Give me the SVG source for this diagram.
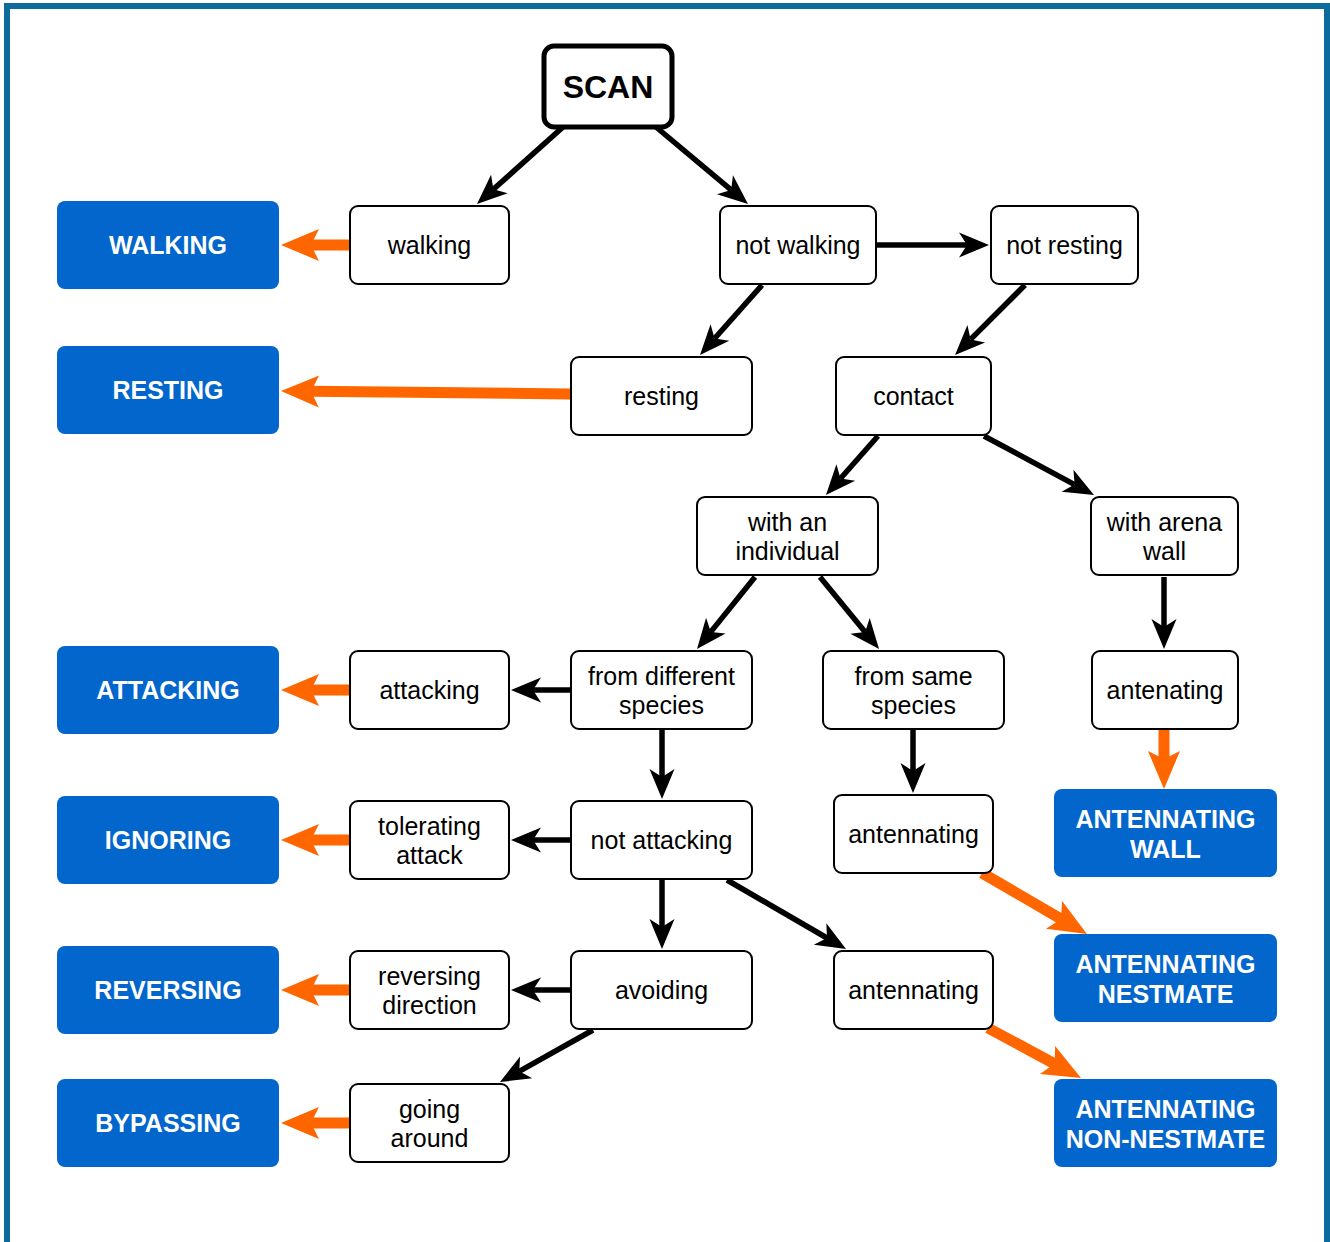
<svg xmlns="http://www.w3.org/2000/svg" width="1330" height="1242" viewBox="0 0 1330 1242">
<style>
.n rect{fill:#fff;stroke:#000;stroke-width:2}
.n text{font-family:"Liberation Sans",Arial,sans-serif;font-size:25px;fill:#000;text-anchor:middle}
.b rect{fill:#0366cc}
.b text{font-family:"Liberation Sans",Arial,sans-serif;font-size:25px;font-weight:bold;fill:#fff;text-anchor:middle}
.k{stroke:#000;stroke-width:5.5;fill:none;marker-end:url(#ak)}
.o{stroke:#ff6600;stroke-width:11;fill:none;marker-end:url(#ao)}
</style>
<defs>
<marker id="ak" markerUnits="userSpaceOnUse" orient="auto" refX="0" refY="0" markerWidth="40" markerHeight="30" overflow="visible"><path d="M22,0 L-8,-12.5 L0,0 L-8,12.5 Z" fill="#000"/></marker>
<marker id="ao" markerUnits="userSpaceOnUse" orient="auto" refX="0" refY="0" markerWidth="50" markerHeight="40" overflow="visible"><path d="M30,0 L-8,-16 L0,0 L-8,16 Z" fill="#ff6600"/></marker>
</defs>
<rect x="0" y="0" width="1330" height="1242" fill="#fff"/>
<rect x="7" y="6" width="1320" height="1260" fill="none" stroke="#0b6b9c" stroke-width="6"/>

<g id="connectors">
<path class="k" d="M563,127 L493.4,189.3"/>
<path class="k" d="M656,127 L731.1,189.9"/>
<path class="k" d="M876,245 L967,245"/>
<path class="k" d="M762,285 L714.6,338.5"/>
<path class="k" d="M1025,285 L970.6,339.4"/>
<path class="k" d="M878,436 L840.5,478.5"/>
<path class="k" d="M984,436 L1074.6,484.6"/>
<path class="k" d="M755,577 L710.8,631.9"/>
<path class="k" d="M820,577 L865.1,632"/>
<path class="k" d="M1164,577 L1164,627"/>
<path class="k" d="M571,690 L533,690"/>
<path class="k" d="M662,730 L662,777"/>
<path class="k" d="M913,730 L913,771"/>
<path class="k" d="M571,840 L533,840"/>
<path class="k" d="M662,880 L662,927"/>
<path class="k" d="M727,880 L827,938"/>
<path class="k" d="M571,990 L533,990"/>
<path class="k" d="M593,1030 L519.2,1071.3"/>
<path class="o" d="M350,245 L311,245"/>
<path class="o" d="M571,394 L311,391.3"/>
<path class="o" d="M350,690 L311,690"/>
<path class="o" d="M350,840 L311,840"/>
<path class="o" d="M350,990 L311,990"/>
<path class="o" d="M350,1123 L311,1123"/>
<path class="o" d="M1164,729 L1164,759"/>
<path class="o" d="M982,873 L1061,918.9"/>
<path class="o" d="M988,1028 L1054.6,1063.8"/>
</g>

<g id="scan" class="n"><rect x="544" y="46" width="128" height="81" rx="10" style="stroke-width:5"/><text x="608" y="98" style="font-size:32px;font-weight:bold">SCAN</text></g>
<g id="walking" class="n"><rect x="350" y="206" width="159" height="78" rx="8"/><text x="429.5" y="253.5">walking</text></g>
<g id="not-walking" class="n"><rect x="720" y="206" width="156" height="78" rx="8"/><text x="798" y="253.5">not walking</text></g>
<g id="not-resting" class="n"><rect x="991" y="206" width="147" height="78" rx="8"/><text x="1064.5" y="253.5">not resting</text></g>
<g id="resting" class="n"><rect x="571" y="357" width="181" height="78" rx="8"/><text x="661.5" y="404.5">resting</text></g>
<g id="contact" class="n"><rect x="836" y="357" width="155" height="78" rx="8"/><text x="913.5" y="404.5">contact</text></g>
<g id="with-individual" class="n"><rect x="697" y="497" width="181" height="78" rx="8"/><text x="787.5" y="530.5">with an</text><text x="787.5" y="559.5">individual</text></g>
<g id="with-wall" class="n"><rect x="1091" y="497" width="147" height="78" rx="8"/><text x="1164.5" y="530.5">with arena</text><text x="1164.5" y="559.5">wall</text></g>
<g id="attacking" class="n"><rect x="350" y="651" width="159" height="78" rx="8"/><text x="429.5" y="698.5">attacking</text></g>
<g id="from-different" class="n"><rect x="571" y="651" width="181" height="78" rx="8"/><text x="661.5" y="684.5">from different</text><text x="661.5" y="713.5">species</text></g>
<g id="from-same" class="n"><rect x="823" y="651" width="181" height="78" rx="8"/><text x="913.5" y="684.5">from same</text><text x="913.5" y="713.5">species</text></g>
<g id="antenating" class="n"><rect x="1092" y="651" width="146" height="78" rx="8"/><text x="1165" y="698.5">antenating</text></g>
<g id="tolerating" class="n"><rect x="350" y="801" width="159" height="78" rx="8"/><text x="429.5" y="834.5">tolerating</text><text x="429.5" y="863.5">attack</text></g>
<g id="not-attacking" class="n"><rect x="571" y="801" width="181" height="78" rx="8"/><text x="661.5" y="848.5">not attacking</text></g>
<g id="antennating-1" class="n"><rect x="834" y="795" width="159" height="78" rx="8"/><text x="913.5" y="842.5">antennating</text></g>
<g id="reversing" class="n"><rect x="350" y="951" width="159" height="78" rx="8"/><text x="429.5" y="984.5">reversing</text><text x="429.5" y="1013.5">direction</text></g>
<g id="avoiding" class="n"><rect x="571" y="951" width="181" height="78" rx="8"/><text x="661.5" y="998.5">avoiding</text></g>
<g id="antennating-2" class="n"><rect x="834" y="951" width="159" height="78" rx="8"/><text x="913.5" y="998.5">antennating</text></g>
<g id="going-around" class="n"><rect x="350" y="1084" width="159" height="78" rx="8"/><text x="429.5" y="1117.5">going</text><text x="429.5" y="1146.5">around</text></g>

<g id="WALKING" class="b"><rect x="57" y="201" width="222" height="88" rx="8"/><text x="168" y="253.5">WALKING</text></g>
<g id="RESTING" class="b"><rect x="57" y="346" width="222" height="88" rx="8"/><text x="168" y="398.5">RESTING</text></g>
<g id="ATTACKING" class="b"><rect x="57" y="646" width="222" height="88" rx="8"/><text x="168" y="698.5">ATTACKING</text></g>
<g id="IGNORING" class="b"><rect x="57" y="796" width="222" height="88" rx="8"/><text x="168" y="848.5">IGNORING</text></g>
<g id="REVERSING" class="b"><rect x="57" y="946" width="222" height="88" rx="8"/><text x="168" y="998.5">REVERSING</text></g>
<g id="BYPASSING" class="b"><rect x="57" y="1079" width="222" height="88" rx="8"/><text x="168" y="1131.5">BYPASSING</text></g>
<g id="ANTENNATING-WALL" class="b"><rect x="1054" y="789" width="223" height="88" rx="8"/><text x="1165.5" y="827.5">ANTENNATING</text><text x="1165.5" y="857.5">WALL</text></g>
<g id="ANTENNATING-NESTMATE" class="b"><rect x="1054" y="934" width="223" height="88" rx="8"/><text x="1165.5" y="972.5">ANTENNATING</text><text x="1165.5" y="1002.5">NESTMATE</text></g>
<g id="ANTENNATING-NON-NESTMATE" class="b"><rect x="1054" y="1079" width="223" height="88" rx="8"/><text x="1165.5" y="1117.5">ANTENNATING</text><text x="1165.5" y="1147.5">NON-NESTMATE</text></g>
</svg>
